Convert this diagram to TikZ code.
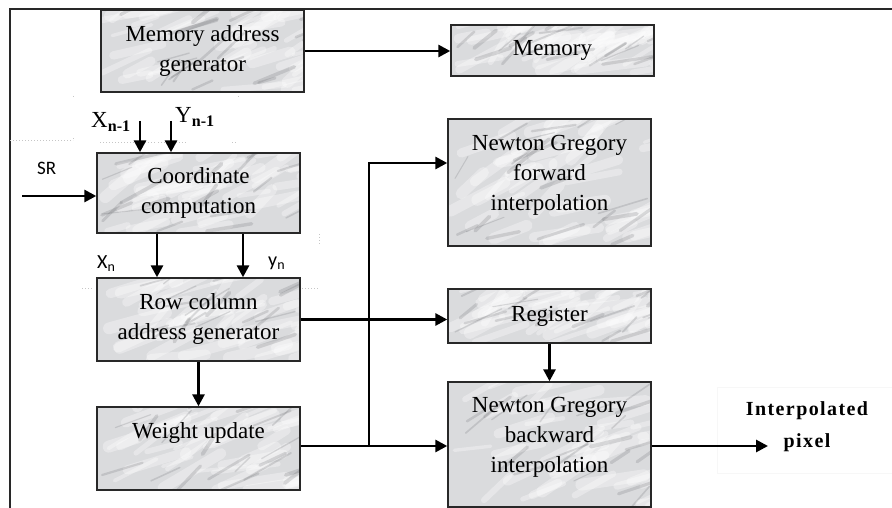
\documentclass[tikz,border=0pt]{standalone}
\usepackage{fontspec}
\setmainfont{Liberation Serif}
\newfontfamily\labelsans{Carlito}
\usetikzlibrary{arrows.meta,calc}

\definecolor{marblebase}{RGB}{218,219,221}
\definecolor{marblevein}{RGB}{95,97,101}
\definecolor{framegray}{RGB}{40,40,40}

\begin{document}
\begin{tikzpicture}[x=1pt,y=-1pt,
  % marbled fill of the blocks
  marble/.style={path picture={
    \fill[marblebase] (path picture bounding box.south west) rectangle (path picture bounding box.north east);
    \foreach \k in {1,...,45}{
      \draw[white, opacity=0.33, line cap=round, line width={3+9*rnd}]
        let \p1=(path picture bounding box.south west), \p2=(path picture bounding box.north east)
        in ({\x1+rnd*(\x2-\x1)},{\y1+rnd*(\y2-\y1)}) -- ++({10+25*rnd}:{20pt+50pt*rnd});
    }
    \foreach \k in {1,...,20}{
      \draw[marblevein, opacity=0.2, line cap=round, line width={1+3*rnd}]
        let \p1=(path picture bounding box.south west), \p2=(path picture bounding box.north east)
        in ({\x1+rnd*(\x2-\x1)},{\y1+rnd*(\y2-\y1)}) -- ++({15+25*rnd}:{15pt+40pt*rnd});
    }
  }},
  block/.style={marble, draw=framegray, line width=1.4pt, minimum width=203pt,
    inner sep=0pt, align=center, font=\fontsize{23}{30}\selectfont},
  conn/.style={line width=2.8pt, -{Triangle[length=12pt,width=12pt]}},
  faint/.style={draw=gray!45, line width=0.6pt, dash pattern=on 1pt off 2pt},
  serlabel/.style={inner sep=0pt, font=\fontsize{23}{26}\selectfont},
  sanslabel/.style={inner sep=0pt, font=\labelsans\fontsize{19}{22}\selectfont},
]
\pgfmathsetseed{4127}
\useasboundingbox (0,0) rectangle (892,508);

% outer frame (left and top edges)
\draw[framegray, line width=2pt] (10,508) -- (10,9) -- (892,9);

% faint remnants of text frames
\draw[faint] (10,140) -- (73,140);
\draw[faint] (100,142) -- (155,142) (158,142) -- (186,142) (232,142) -- (238,142);
\draw[faint] (73,96) -- (73,98) (238,96) -- (238,98) (73,138) -- (73,140);
\draw[faint] (82,288) -- (92,288) (302,288) -- (318,288) (319,234) -- (319,246);
\draw[draw=gray!6, line width=0.5pt] (717,387) -- (892,387) (717,387) -- (717,473) -- (892,473);

% blocks
\node[block, minimum height=82pt] (mag) at (202.5,51) {Memory address\\generator};
\node[block, minimum height=51pt] (mem) at (552.5,50.5) {Memory};
\node[block, minimum height=80pt] (cc) at (198.5,193) {Coordinate\\computation};
\node[block, minimum height=83pt] (rc) at (198.5,319.5) {Row column\\address generator};
\node[block, minimum height=83pt, text depth=36pt] (wu) at (198.5,448.5) {Weight update};
\node[block, minimum height=127pt, text depth=19pt] (ngf) at (549.5,182.5) {Newton Gregory\\forward\\interpolation};
\node[block, minimum height=54pt] (reg) at (549.5,316) {Register};
\node[block, minimum height=125pt, text depth=19pt] (ngb) at (549.5,444.5) {Newton Gregory\\backward\\interpolation};

% signal labels
\node[sanslabel, anchor=base west] (srl) at (37,175) {SR};
\node[serlabel, anchor=base west] (xpl) at (91,128) {X\textsubscript{\textbf{n-1}}};
\node[serlabel, anchor=base west] (ypl) at (175,123) {Y\textsubscript{\textbf{n-1}}};
\node[sanslabel, font=\labelsans\fontsize{20}{22}\selectfont, anchor=base west] (xnl) at (97,268) {X\textsubscript{n}};
\node[sanslabel, font=\labelsans\fontsize{20}{22}\selectfont, anchor=base west] (ynl) at (268,266) {y\textsubscript{n}};
\node[inner sep=0pt, align=center,
  font=\bfseries\fontsize{20}{32}\selectfont\addfontfeatures{LetterSpace=7}] (pix) at (807,427) {Interpolated\\pixel};

% free ends and routing points
\coordinate (srin) at (22,196);
\coordinate (xin) at (140,121);
\coordinate (yin) at (171,121);
\coordinate (xa) at (157,0);
\coordinate (ya) at (243,0);
\coordinate (jn) at (369,446);
\coordinate (kn) at (369,163);
\coordinate (pixin) at (768,446);

% connectors
\draw[conn] (mag.east) -- (mag.east -| mem.west);
\draw[conn] (srin) -- (srin -| cc.west);
\draw[conn] (xin) -- (xin |- cc.north);
\draw[conn] (yin) -- (yin |- cc.north);
\draw[conn] (cc.south -| xa) -- (rc.north -| xa);
\draw[conn] (cc.south -| ya) -- (rc.north -| ya);
\draw[conn] (rc.south) -- (wu.north);
\draw[conn] (rc.east) -- (rc.east -| reg.west);
\draw[conn] (wu.east |- jn) -- (jn -| ngb.west);
\draw[conn] (jn) -- (kn) -- (kn -| ngf.west);
\draw[conn] (reg.south) -- (ngb.north);
\draw[conn] (ngb.east |- pixin) -- (pixin);
\end{tikzpicture}
\end{document}
